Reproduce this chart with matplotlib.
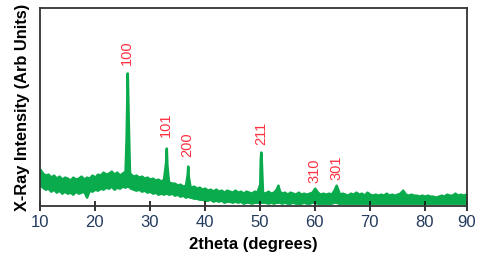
import matplotlib
matplotlib.use("Agg")
import matplotlib.pyplot as plt

plt.rcParams['font.family'] = ['Liberation Sans', 'DejaVu Sans']

# 2theta positions (degrees)
two_theta = [
    10.0, 10.5, 11.0, 11.5, 12.0, 12.5, 13.0, 13.5, 14.0, 14.5, 15.0, 15.5, 16.0, 16.5,
    17.0, 17.5, 18.0, 18.5, 19.0, 19.5, 20.0, 20.5, 21.0, 21.5, 22.0, 22.5, 23.0, 23.5,
    24.0, 24.5, 25.0, 25.5,
    25.7, 25.9, 26.1, 26.3,
    26.5, 27.0, 27.5, 28.0, 28.5, 29.0, 29.5, 30.0, 30.5, 31.0, 31.5, 32.0, 32.5,
    32.9, 33.0, 33.1, 33.4,
    33.5, 34.0, 34.5, 35.0, 35.5, 36.0, 36.5,
    36.8, 36.9, 37.0, 37.3,
    37.5, 38.0, 38.5, 39.0, 39.5, 40.0, 40.5, 41.0, 41.5, 42.0, 42.5, 43.0, 43.5, 44.0,
    44.5, 45.0, 45.5, 46.0, 46.5, 47.0, 47.5, 48.0, 48.5, 49.0, 49.5,
    50.0, 50.1, 50.2, 50.3, 50.5,
    51.0, 51.5, 52.0, 52.5,
    53.0, 53.3, 53.6,
    54.0, 54.5, 55.0, 55.5, 56.0, 56.5, 57.0, 57.5, 58.0, 58.5, 59.0, 59.5, 60.0, 60.5,
    61.0, 61.5, 62.0, 62.5, 63.0, 63.5,
    63.9, 64.3,
    64.5, 65.0, 65.5, 66.0, 66.5, 67.0, 67.5, 68.0, 68.5, 69.0, 69.5, 70.0, 70.5, 71.0,
    71.5, 72.0, 72.5, 73.0, 73.5, 74.0, 74.5, 75.0, 75.5, 76.0, 76.5, 77.0, 77.5, 78.0,
    78.5, 79.0, 79.5, 80.0, 80.5, 81.0, 81.5, 82.0, 82.5, 83.0, 83.5, 84.0, 84.5, 85.0,
    85.5, 86.0, 86.5, 87.0, 87.5,
]
# upper edge of the noisy trace (arb. units)
intensity_upper = [
    37, 33, 31, 32, 29, 31, 28, 30, 27, 29, 28, 26, 29, 27,
    28, 30, 27, 29, 28, 31, 29, 32, 31, 34, 32, 33, 35, 32,
    34, 31, 33, 35,
    70, 133, 80, 34,
    32, 30, 31, 29, 30, 28, 29, 27, 28, 26, 27, 25, 27,
    45, 58, 42, 24,
    24, 23, 23, 21, 22, 20, 21,
    32, 40, 30, 20,
    19, 20, 18, 19, 17, 18, 16, 17, 15, 17, 15, 16, 14, 16,
    15, 14, 16, 14, 15, 13, 15, 14, 13, 15, 14,
    22, 48, 54, 42, 14,
    13, 15, 13, 14,
    17, 21, 15,
    13, 14, 12, 14, 13, 12, 14, 12, 13, 12, 13, 14, 18, 14,
    12, 13, 12, 13, 12, 16,
    21, 15,
    12, 13, 12, 11, 13, 12, 14, 12, 13, 11, 14, 12, 11, 12,
    11, 12, 11, 13, 11, 12, 11, 12, 13, 16, 12, 11, 12, 11,
    11, 10, 11, 10, 11, 10, 10, 9, 10, 11, 10, 12, 11, 11,
    13, 11, 12, 11, 12,
]
# lower edge of the noisy trace (arb. units)
intensity_lower = [
    21, 19, 17, 18, 15, 17, 14, 16, 13, 15, 13, 14, 12, 15,
    13, 14, 15, 9, 16, 15, 17, 16, 18, 17, 19, 18, 20, 17,
    19, 18, 20, 19,
    20, 20, 20, 19,
    18, 17, 16, 17, 15, 16, 14, 15, 13, 14, 12, 13, 12,
    13, 13, 13, 12,
    12, 13, 11, 12, 10, 11, 9,
    10, 10, 10, 9,
    9, 8, 8, 7, 7, 6, 6, 7, 5, 6, 5, 6, 4, 5,
    5, 4, 5, 4, 5, 3, 4, 4, 3, 4, 4,
    4, 4, 4, 4, 4,
    4, 3, 4, 3,
    4, 4, 4,
    3, 4, 3, 3, 4, 3, 3, 3, 4, 3, 3, 4, 4, 3,
    3, 3, 3, 3, 3, 4,
    4, 3,
    3, 3, 3, 3, 3, 3, 3, 3, 3, 3, 3, 3, 3, 3,
    3, 3, 3, 3, 3, 3, 3, 3, 3, 3, 3, 3, 3, 3,
    3, 3, 3, 3, 3, 3, 3, 3, 3, 3, 3, 3, 3, 3,
    3, 3, 3, 3, 3,
]
assert len(two_theta) == len(intensity_upper) == len(intensity_lower)

peak_labels = ["100", "101", "200", "211", "310", "301"]
peak_pos = [25.9, 33.0, 36.9, 50.3, 60.0, 63.9]
peak_label_y = [141, 69, 49, 61, 23, 26]

tick_values = [10, 20, 30, 40, 50, 60, 70, 80, 87.7]
tick_labels = ["10", "20", "30", "40", "50", "60", "70", "80", "90"]

green = "#0aab4c"
fig = plt.figure(figsize=(4.8, 2.61), dpi=100)
ax = fig.add_axes([0.083, 0.21, 0.89, 0.76])

ax.fill_between(two_theta, intensity_lower, intensity_upper,
                facecolor=green, edgecolor=green, lw=1.8)

for lab, x, y in zip(peak_labels, peak_pos, peak_label_y):
    ax.text(x, y, lab, rotation=90, ha="center", va="bottom",
            color="#ff3040", fontsize=10.5)

ax.set_xlim(10, 87.7)
ax.set_ylim(0, 198)
ax.set_xticks(tick_values)
ax.set_xticklabels(tick_labels)
ax.set_yticks([])
ax.tick_params(axis="x", direction="inout", length=7, width=1.2,
               colors="#111111", labelcolor="#243b5e", labelsize=12, pad=3)
for s in ax.spines.values():
    s.set_color("#333333")
    s.set_linewidth(1.3)

ax.set_xlabel("2theta (degrees)", fontsize=12, fontweight="bold", labelpad=5)
ax.set_ylabel("X-Ray Intensity (Arb Units)", fontsize=11.8, fontweight="bold", labelpad=7)

fig.savefig("out.png", dpi=100)
